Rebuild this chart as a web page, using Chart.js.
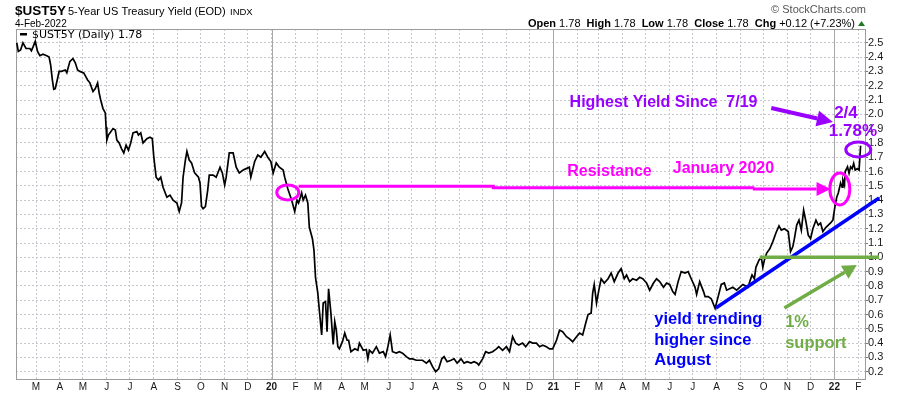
<!DOCTYPE html>
<html><head><meta charset="utf-8">
<script src="https://cdn.jsdelivr.net/npm/chart.js@4.4.0/dist/chart.umd.min.js"></script>
<style>html,body{margin:0;padding:0;background:#fff;}canvas{display:block;}</style>
</head><body>
<canvas id="c" width="900" height="396"></canvas>
<script>
// ---------- data ----------
const dates = [
'2019-02-04','2019-02-06','2019-02-09','2019-02-12','2019-02-16','2019-02-21','2019-02-23','2019-02-25','2019-02-28','2019-03-03',
'2019-03-06','2019-03-10','2019-03-15','2019-03-18','2019-03-20','2019-03-22','2019-03-24','2019-03-26','2019-03-29','2019-03-31',
'2019-04-03','2019-04-08','2019-04-10','2019-04-14','2019-04-18','2019-04-21','2019-04-24','2019-04-27','2019-05-02','2019-05-05',
'2019-05-07','2019-05-10','2019-05-14','2019-05-17','2019-05-20','2019-05-22','2019-05-24','2019-05-27','2019-05-30','2019-05-31',
'2019-06-01','2019-06-03','2019-06-05','2019-06-09','2019-06-12','2019-06-14','2019-06-17','2019-06-20','2019-06-23','2019-06-26',
'2019-06-29','2019-07-02','2019-07-05','2019-07-10','2019-07-12','2019-07-15','2019-07-18','2019-07-23','2019-07-27','2019-07-30',
'2019-08-01','2019-08-04','2019-08-07','2019-08-10','2019-08-13','2019-08-18','2019-08-22','2019-08-26','2019-08-31','2019-09-03',
'2019-09-06','2019-09-08','2019-09-11','2019-09-13','2019-09-16','2019-09-19','2019-09-23','2019-09-28','2019-09-30','2019-10-02',
'2019-10-04','2019-10-07','2019-10-10','2019-10-12','2019-10-17','2019-10-21','2019-10-26','2019-10-29','2019-11-01','2019-11-03',
'2019-11-07','2019-11-12','2019-11-16','2019-11-20','2019-11-25','2019-11-29','2019-12-03','2019-12-05','2019-12-10','2019-12-14',
'2019-12-18','2019-12-23','2019-12-27','2019-12-31',
'2020-01-03','2020-01-07','2020-01-11','2020-01-16','2020-01-18','2020-01-22','2020-01-27','2020-01-31','2020-02-03','2020-02-05',
'2020-02-09','2020-02-11','2020-02-14','2020-02-17','2020-02-19','2020-02-23','2020-02-25','2020-02-27','2020-03-01','2020-03-03',
'2020-03-06','2020-03-08','2020-03-11','2020-03-13','2020-03-15','2020-03-18','2020-03-21','2020-03-23','2020-03-25','2020-03-27',
'2020-03-29','2020-04-02','2020-04-05','2020-04-08','2020-04-10','2020-04-13','2020-04-18','2020-04-22','2020-04-24','2020-04-29',
'2020-05-03','2020-05-05','2020-05-07','2020-05-11','2020-05-16','2020-05-20','2020-05-25','2020-05-28','2020-05-31','2020-06-03',
'2020-06-06','2020-06-11','2020-06-15','2020-06-19','2020-06-24','2020-06-28','2020-07-02','2020-07-07','2020-07-11','2020-07-15',
'2020-07-20','2020-07-24','2020-07-28','2020-08-01','2020-08-05','2020-08-09','2020-08-12','2020-08-16','2020-08-21','2020-08-25',
'2020-08-29','2020-09-03','2020-09-07','2020-09-11','2020-09-16','2020-09-20','2020-09-24','2020-09-26','2020-10-01','2020-10-05',
'2020-10-09','2020-10-14','2020-10-19','2020-10-22','2020-10-27','2020-11-01','2020-11-05','2020-11-09','2020-11-13','2020-11-17',
'2020-11-22','2020-11-26','2020-12-01','2020-12-05','2020-12-10','2020-12-14','2020-12-18','2020-12-23','2020-12-27','2020-12-31',
'2021-01-05','2021-01-09','2021-01-13','2021-01-18','2021-01-22','2021-01-26','2021-01-31','2021-02-04','2021-02-08','2021-02-12',
'2021-02-15','2021-02-19','2021-02-21','2021-02-23','2021-02-26','2021-03-01','2021-03-04','2021-03-08','2021-03-13','2021-03-17',
'2021-03-21','2021-03-26','2021-03-30','2021-04-03','2021-04-06','2021-04-10','2021-04-14','2021-04-19','2021-04-23','2021-04-27',
'2021-05-02','2021-05-06','2021-05-11','2021-05-15','2021-05-19','2021-05-24','2021-05-28','2021-06-01','2021-06-05','2021-06-08',
'2021-06-12','2021-06-16','2021-06-21','2021-06-25','2021-06-29','2021-07-04','2021-07-06','2021-07-10','2021-07-15','2021-07-17',
'2021-07-21','2021-07-25','2021-07-30','2021-08-03','2021-08-07','2021-08-11','2021-08-14','2021-08-18','2021-08-22','2021-08-27',
'2021-08-31','2021-09-04','2021-09-11','2021-09-13','2021-09-16','2021-09-19','2021-09-21','2021-09-25','2021-09-28','2021-09-30',
'2021-10-02','2021-10-05','2021-10-09','2021-10-13','2021-10-17','2021-10-21','2021-10-24','2021-10-28','2021-11-02','2021-11-05',
'2021-11-08','2021-11-10','2021-11-13','2021-11-16','2021-11-19','2021-11-22','2021-11-25','2021-11-28','2021-12-01','2021-12-04',
'2021-12-08','2021-12-11','2021-12-14','2021-12-17','2021-12-21','2021-12-24','2021-12-27','2021-12-30',
'2022-01-02','2022-01-04','2022-01-06','2022-01-09','2022-01-11','2022-01-12','2022-01-14','2022-01-15','2022-01-18','2022-01-20',
'2022-01-22','2022-01-24','2022-01-26','2022-01-28','2022-01-31','2022-02-02','2022-02-04'
];
const yields = [
2.50,2.44,2.45,2.50,2.46,2.46,2.445,2.47,2.51,2.44,
2.41,2.42,2.41,2.40,2.345,2.25,2.175,2.18,2.25,2.30,
2.30,2.31,2.29,2.37,2.39,2.36,2.31,2.30,2.29,2.26,
2.24,2.22,2.16,2.18,2.22,2.15,2.10,2.04,2.01,1.91,
1.82,1.855,1.87,1.90,1.89,1.82,1.80,1.76,1.73,1.785,
1.75,1.80,1.87,1.88,1.855,1.87,1.80,1.83,1.84,1.83,
1.70,1.56,1.54,1.56,1.49,1.42,1.435,1.40,1.38,1.32,
1.38,1.56,1.68,1.74,1.68,1.66,1.59,1.56,1.52,1.355,
1.34,1.355,1.47,1.575,1.575,1.56,1.63,1.59,1.505,1.56,
1.73,1.73,1.63,1.59,1.61,1.62,1.63,1.56,1.67,1.715,
1.70,1.74,1.70,1.67,
1.59,1.66,1.63,1.61,1.56,1.48,1.40,1.32,1.40,1.38,
1.45,1.40,1.435,1.38,1.21,1.13,1.05,0.86,0.75,0.63,
0.457,0.68,0.69,0.48,0.78,0.61,0.39,0.55,0.49,0.375,
0.36,0.41,0.47,0.42,0.42,0.34,0.36,0.35,0.40,0.35,
0.355,0.29,0.35,0.33,0.375,0.33,0.34,0.305,0.375,0.457,
0.34,0.33,0.34,0.33,0.305,0.29,0.29,0.28,0.28,0.28,
0.26,0.28,0.235,0.20,0.22,0.29,0.305,0.27,0.28,0.29,
0.26,0.29,0.26,0.27,0.26,0.27,0.26,0.247,0.29,0.34,
0.33,0.34,0.36,0.375,0.35,0.375,0.34,0.445,0.40,0.387,
0.40,0.375,0.41,0.40,0.40,0.375,0.385,0.375,0.36,0.36,
0.42,0.49,0.48,0.445,0.43,0.41,0.445,0.47,0.457,0.54,
0.60,0.61,0.75,0.81,0.68,0.77,0.85,0.82,0.85,0.89,
0.83,0.89,0.92,0.85,0.876,0.83,0.85,0.84,0.86,0.85,
0.82,0.77,0.82,0.85,0.83,0.79,0.82,0.81,0.76,0.74,
0.83,0.90,0.89,0.90,0.85,0.79,0.74,0.83,0.76,0.725,
0.725,0.71,0.643,0.725,0.81,0.82,0.77,0.78,0.79,0.77,
0.79,0.81,0.79,0.83,0.876,0.85,0.93,0.98,1.00,0.93,
0.98,1.03,1.06,1.11,1.17,1.22,1.19,1.20,1.18,1.04,
1.075,1.13,1.225,1.26,1.19,1.33,1.25,1.155,1.13,1.20,
1.26,1.225,1.24,1.18,1.21,1.225,1.24,1.26,
1.366,1.42,1.45,1.52,1.49,1.54,1.505,1.60,1.633,1.587,
1.633,1.62,1.657,1.61,1.62,1.61,1.78
];
const tickDates = [
'2019-03-01','2019-04-01','2019-05-01','2019-06-01','2019-07-01','2019-08-01','2019-09-01','2019-10-01','2019-11-01','2019-12-01',
'2020-01-01','2020-02-01','2020-03-01','2020-04-01','2020-05-01','2020-06-01','2020-07-01','2020-08-01','2020-09-01','2020-10-01','2020-11-01','2020-12-01',
'2021-01-01','2021-02-01','2021-03-01','2021-04-01','2021-05-01','2021-06-01','2021-07-01','2021-08-01','2021-09-01','2021-10-01','2021-11-01','2021-12-01',
'2022-01-01','2022-02-01'];
const tickLabels = ['M','A','M','J','J','A','S','O','N','D',
'20','F','M','A','M','J','J','A','S','O','N','D',
'21','F','M','A','M','J','J','A','S','O','N','D',
'22','F'];
const yTicks = [0.2,0.3,0.4,0.5,0.6,0.7,0.8,0.9,1.0,1.1,1.2,1.3,1.4,1.5,1.6,1.7,1.8,1.9,2.0,2.1,2.2,2.3,2.4,2.5];
const xRange = ['2019-02-03','2022-02-11'];
const yRange = [0.142, 2.5965];
const yearLines = ['2020-01-01','2021-01-01','2022-01-01'];
const headerFields = [['Open',true],[' 1.78  ',false],['High',true],[' 1.78  ',false],['Low',true],[' 1.78  ',false],['Close',true],[' 1.78  ',false],['Chg',true],[' +0.12 (+7.23%)',false]];

// ---------- annotations (in data units) ----------
const MAG='#ff00ff', PUR='#9900ff', BLU='#0000ff', GRN='#70ad47';
const resistancePath = [['2020-02-05',1.497],['2020-10-15',1.497],['2020-10-15',1.487],['2021-09-17',1.487],['2021-09-17',1.478],['2021-12-27',1.478]];
const trendLine = [['2021-07-31',0.645],['2022-02-28',1.415]];
const supportLine = [['2021-09-26',1.0],['2022-02-28',1.0]];
const supportArrow = [['2021-10-28',0.645],['2022-01-30',0.946]];
const highArrow = [['2021-10-11',2.044],['2021-12-30',1.946]];
const rings = [
  {at:['2020-01-22',1.454], rx:11, ry:7.5, color:MAG},
  {at:['2022-01-08',1.478], rx:10, ry:16, color:MAG},
  {at:['2022-02-01',1.754], rx:12.5, ry:7.5, color:PUR}];
const notes = [
  {t:'Resistance', at:['2021-01-19',1.597], color:MAG, size:16, align:'left'},
  {t:'January 2020', at:['2021-06-05',1.617], color:MAG, size:16, align:'left'},
  {t:'Highest Yield Since  7/19', at:['2021-01-22',2.079], color:PUR, size:16, align:'left'},
  {t:'2/4', at:['2022-01-16',2.009], color:PUR, size:17, align:'center'},
  {t:'1.78%', at:['2022-01-25',1.883], color:PUR, size:17, align:'center'},
  {t:'yield trending', at:['2021-05-12',0.562], color:BLU, size:16.5, align:'left'},
  {t:'higher since', at:['2021-05-12',0.422], color:BLU, size:16.5, align:'left'},
  {t:'August', at:['2021-05-12',0.282], color:BLU, size:16.5, align:'left'},
  {t:'1%', at:['2021-10-29',0.547], color:GRN, size:16.5, align:'left'},
  {t:'support', at:['2021-10-29',0.40], color:GRN, size:16.5, align:'left'}];

// ---------- helpers ----------
const toDay = s => Date.UTC(+s.slice(0,4), +s.slice(5,7)-1, +s.slice(8,10)) / 86400000;
const SANS = '"Liberation Sans", Arial, sans-serif';
const points = dates.map((d,i) => ({x: toDay(d), y: yields[i]}));

function arrow(ctx, x1, y1, x2, y2, w, len, half, color) {
  const a = Math.atan2(y2-y1, x2-x1);
  const bx = x2 - len*Math.cos(a), by = y2 - len*Math.sin(a);
  ctx.strokeStyle = color; ctx.lineWidth = w;
  ctx.beginPath(); ctx.moveTo(x1,y1); ctx.lineTo(bx,by); ctx.stroke();
  ctx.fillStyle = color; ctx.beginPath(); ctx.moveTo(x2,y2);
  ctx.lineTo(bx + half*Math.sin(a), by - half*Math.cos(a));
  ctx.lineTo(bx - half*Math.sin(a), by + half*Math.cos(a));
  ctx.closePath(); ctx.fill();
}

const overlay = {
  id: 'overlay',
  beforeDatasetsDraw(chart) {
    const {ctx, chartArea:a, scales:{x}} = chart;
    ctx.save();
    ctx.strokeStyle = '#a8a8a8'; ctx.lineWidth = 1;
    yearLines.forEach(d => {
      const px = Math.round(x.getPixelForValue(toDay(d))) + 0.5;
      ctx.beginPath(); ctx.moveTo(px, a.top); ctx.lineTo(px, a.bottom); ctx.stroke();
    });
    ctx.strokeStyle = '#9c9c9c';
    ctx.strokeRect(a.left + 0.5, a.top + 0.5, a.right - a.left - 1, a.bottom - a.top - 1);
    ctx.restore();
  },
  afterDatasetsDraw(chart) {
    const {ctx, scales:{x, y}} = chart;
    const P = p => [x.getPixelForValue(toDay(p[0])), y.getPixelForValue(p[1])];
    ctx.save();
    ctx.lineCap = 'butt'; ctx.lineJoin = 'miter';
    [[trendLine, BLU, 3.5], [supportLine, GRN, 3.5]].forEach(([ln, c, w]) => {
      const a = P(ln[0]), b = P(ln[1]);
      ctx.strokeStyle = c; ctx.lineWidth = w;
      ctx.beginPath(); ctx.moveTo(a[0], a[1]); ctx.lineTo(b[0], b[1]); ctx.stroke();
    });
    const rp = resistancePath.map(P);
    ctx.strokeStyle = MAG; ctx.lineWidth = 3;
    ctx.beginPath(); ctx.moveTo(rp[0][0], rp[0][1]);
    for (let i = 1; i < rp.length - 1; i++) ctx.lineTo(rp[i][0], rp[i][1]);
    ctx.stroke();
    const n = rp.length;
    arrow(ctx, rp[n-2][0], rp[n-2][1], rp[n-1][0], rp[n-1][1], 3, 14, 7, MAG);
    let a = P(supportArrow[0]), b = P(supportArrow[1]);
    arrow(ctx, a[0], a[1], b[0], b[1], 3.5, 14, 7.5, GRN);
    a = P(highArrow[0]); b = P(highArrow[1]);
    arrow(ctx, a[0], a[1], b[0], b[1], 4, 16, 8, PUR);
    rings.forEach(r => {
      const c = P(r.at);
      ctx.strokeStyle = r.color; ctx.lineWidth = 3;
      ctx.beginPath(); ctx.ellipse(c[0], c[1], r.rx, r.ry, 0, 0, Math.PI*2); ctx.stroke();
    });
    ctx.textBaseline = 'middle';
    notes.forEach(nt => {
      const c = P(nt.at);
      ctx.font = 'bold ' + nt.size + 'px ' + SANS;
      ctx.fillStyle = nt.color; ctx.textAlign = nt.align;
      ctx.fillText(nt.t, c[0], c[1]);
    });
    ctx.restore();
  },
  afterDraw(chart) {
    const ctx = chart.ctx;
    ctx.save();
    ctx.textBaseline = 'alphabetic'; ctx.textAlign = 'left'; ctx.fillStyle = '#000';
    ctx.font = 'bold 13.5px ' + SANS; ctx.fillText('$UST5Y', 15, 15);
    ctx.font = '11px ' + SANS; ctx.fillText('5-Year US Treasury Yield (EOD)', 68, 15);
    ctx.font = '9.5px ' + SANS; ctx.fillText('INDX', 230, 15);
    ctx.font = '10px ' + SANS; ctx.fillText('4-Feb-2022', 15, 26.5);
    ctx.fillRect(20, 33, 7, 2.5);
    ctx.font = '11px "DejaVu Sans", Verdana, sans-serif'; ctx.fillText('$UST5Y (Daily) 1.78', 32, 38);
    ctx.font = '11px ' + SANS; ctx.fillStyle = '#555'; ctx.textAlign = 'right';
    ctx.fillText('\u00A9 StockCharts.com', 866, 13);
    ctx.textAlign = 'left'; ctx.fillStyle = '#000';
    let total = 0;
    headerFields.forEach(([t,b]) => { ctx.font = (b?'bold ':'') + '11px ' + SANS; total += ctx.measureText(t).width; });
    let hx = 855 - total;
    headerFields.forEach(([t,b]) => { ctx.font = (b?'bold ':'') + '11px ' + SANS; ctx.fillText(t, hx, 26.5); hx += ctx.measureText(t).width; });
    ctx.fillStyle = '#1f7a1f';
    ctx.beginPath(); ctx.moveTo(858, 26); ctx.lineTo(865, 26); ctx.lineTo(861.5, 21); ctx.closePath(); ctx.fill();
    ctx.restore();
  }
};

new Chart(document.getElementById('c').getContext('2d'), {
  type: 'line',
  data: { datasets: [{ data: points, borderColor: '#000', borderWidth: 1.7, pointRadius: 0, tension: 0, fill: false }] },
  options: {
    responsive: false, animation: false, devicePixelRatio: 1,
    layout: { padding: { left: 16, top: 29, right: 0, bottom: 0 } },
    plugins: { legend: { display: false }, tooltip: { enabled: false }, title: { display: false } },
    scales: {
      x: {
        type: 'linear', min: toDay(xRange[0]), max: toDay(xRange[1]),
        afterBuildTicks: s => { s.ticks = tickDates.map(d => ({ value: toDay(d) })); },
        afterFit: s => { s.height = 16; },
        grid: { color: '#c6c6ce', lineWidth: 1, drawTicks: false },
        border: { display: false, dash: [2, 2] },
        ticks: {
          autoSkip: false, maxRotation: 0, minRotation: 0, padding: 1, color: '#1a1a1a',
          callback: (v, i) => tickLabels[i],
          font: c => ({ family: SANS, size: 10, weight: /^\d+$/.test(tickLabels[c.index] || '') ? 'bold' : 'normal' })
        }
      },
      y: {
        position: 'right', min: yRange[0], max: yRange[1],
        afterBuildTicks: s => { s.ticks = yTicks.map(v => ({ value: v })); },
        afterFit: s => { s.width = 34; },
        grid: { color: '#c6c6ce', lineWidth: 1, drawTicks: true, tickLength: 2, tickColor: '#777' },
        border: { display: false, dash: [2, 2] },
        ticks: { autoSkip: false, padding: 0, color: '#1a1a1a', font: { family: SANS, size: 11 }, callback: v => v.toFixed(1) }
      }
    }
  },
  plugins: [overlay]
});
</script>
</body></html>
